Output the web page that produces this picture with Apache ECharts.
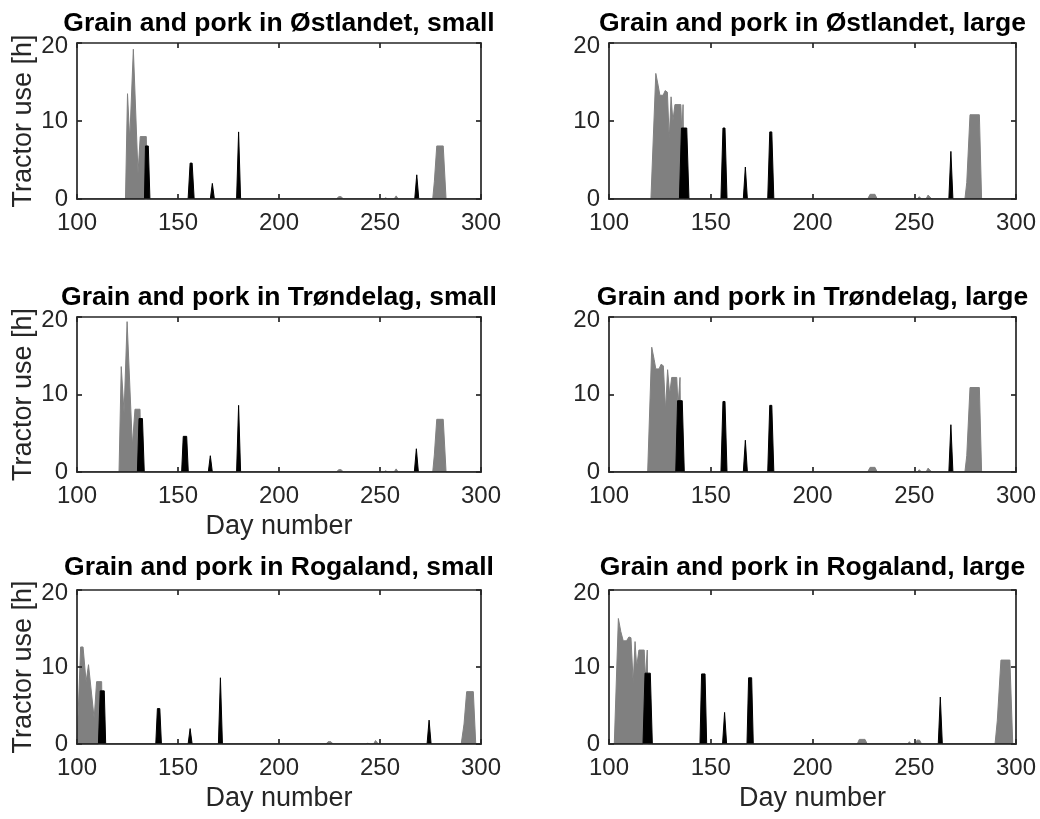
<!DOCTYPE html>
<html><head><meta charset="utf-8">
<script src="https://cdn.jsdelivr.net/npm/echarts@6/dist/echarts.min.js"></script>
<style>html,body{margin:0;padding:0;background:#fff}#c{width:1040px;height:819px}</style>
</head><body><div id="c"></div>
<script>
// ---- data: [day number, tractor use (h)] ----
const panelTitles = [
  'Grain and pork in Østlandet, small', 'Grain and pork in Østlandet, large',
  'Grain and pork in Trøndelag, small', 'Grain and pork in Trøndelag, large',
  'Grain and pork in Rogaland, small', 'Grain and pork in Rogaland, large'
];
const xName = 'Day number';
const yName = 'Tractor use [h]';
const xMin = 100, xMax = 300, xStep = 50;
const yMin = 0, yMax = 20, yStep = 10;

const grainOstSmall = [[100,0],[124.0,0],[125.0,13.5],[126.1,7.6],[127.9,19.2],[130.2,3.3],[131.3,8.0],[134.3,8.0],[134.8,0],
  [228.5,0],[229.5,0.3],[230.8,0.3],[231.8,0],[251.8,0],[252.8,0.15],[253.8,0],[257,0],[258,0.4],[259,0],
  [276.1,0],[276.9,2.2],[278.1,6.8],[281.3,6.8],[282.7,0],[300,0]];
const porkOstSmall = [[100,0],[133.4,0],[133.9,6.8],[135.3,6.8],[136.1,0],[155,0],[156,4.6],[157,4.6],[158,0],
  [166,0],[167,2.0],[168,0],[179,0],[180,8.6],[181,0],[267.2,0],[268.2,3.1],[269.2,0],[300,0]];

const grainOstLarge = [[100,0],[120.6,0],[123.0,16.1],[124.2,14.5],[125.0,13.3],[126.6,13.3],[127.6,13.9],[128.7,13.7],[129.6,7.7],[130.5,13.1],[131.4,10.0],[132.4,12.1],[135.3,12.1],[135.8,8.5],[136.4,12.1],[136.9,0],
  [227.1,0],[228.3,0.6],[230.7,0.6],[231.8,0],[251.5,0],[252.5,0.3],[253.5,0],[255.8,0],[256.8,0.5],[257.6,0.5],[258.6,0],
  [274.9,0],[275.8,2.1],[277.4,10.8],[282.0,10.8],[283.1,0],[300,0]];
const porkOstLarge = [[100,0],[134.6,0],[135.6,9.1],[138.2,9.1],[139.3,0],[155,0],[156,9.1],[157,9.1],[158,0],
  [166,0],[167,4.1],[168,0],[178,0],[179,8.6],[180,8.6],[181,0],[267,0],[268,6.1],[269,0],[300,0]];

const grainTrdSmall = [[100,0],[120.8,0],[121.9,13.6],[123.3,7.6],[124.8,19.4],[127.4,3.4],[128.7,8.1],[131.2,8.1],[131.7,0],
  [228.5,0],[229.5,0.3],[230.8,0.3],[231.8,0],[251.8,0],[252.8,0.15],[253.8,0],[257,0],[258,0.4],[259,0],
  [276.1,0],[276.9,2.2],[278.1,6.8],[281.3,6.8],[282.7,0],[300,0]];
const porkTrdSmall = [[100,0],[129.9,0],[130.7,6.9],[132.4,6.9],[133.3,0],[151.8,0],[152.6,4.6],[154.3,4.6],[155.1,0],
  [165,0],[166,2.1],[167,0],[179,0],[180,8.6],[181,0],[267,0],[268,3.0],[269,0],[300,0]];

const grainTrdLarge = [[100,0],[119.0,0],[121.0,16.1],[122.2,14.5],[123.0,13.3],[124.6,13.3],[125.6,13.9],[126.7,13.7],[127.8,8.0],[128.8,13.2],[129.8,10.0],[130.8,12.2],[133.3,12.2],[133.9,8.5],[134.9,12.2],[135.4,0],
  [227.1,0],[228.3,0.6],[230.7,0.6],[231.8,0],[251.5,0],[252.5,0.3],[253.5,0],[255.8,0],[256.8,0.5],[257.6,0.5],[258.6,0],
  [274.9,0],[275.8,2.1],[277.4,10.9],[282.0,10.9],[283.1,0],[300,0]];
const porkTrdLarge = [[100,0],[132.8,0],[133.7,9.2],[136.0,9.2],[137.0,0],[155,0],[156,9.1],[157,9.1],[158,0],
  [166,0],[167,4.1],[168,0],[178,0],[179,8.6],[180,8.6],[181,0],[267,0],[268,6.1],[269,0],[300,0]];

const grainRogSmall = [[100,0],[100.7,0],[101.8,12.6],[103.0,12.6],[104.5,8.1],[105.7,10.3],[108.5,3.3],[109.7,8.1],[112.2,8.1],[112.6,0],
  [223.3,0],[224.3,0.3],[225.7,0.3],[226.8,0],[243,0],[244,0.1],[245,0],[246.8,0],[247.8,0.45],[248.3,0.45],[249.2,0],
  [290.2,0],[291.6,2.6],[292.9,6.8],[296.2,6.8],[297.4,0],[300,0]];
const porkRogSmall = [[100,0],[110.6,0],[111.5,6.9],[113.5,6.9],[114.2,0],[139,0],[139.8,4.6],[141,4.6],[141.8,0],
  [155,0],[156,2.0],[157,0],[170,0],[171,8.6],[172,0],[273.3,0],[274.3,3.1],[275.3,0],[300,0]];

const grainRogLarge = [[100,0],[102.6,0],[104.6,16.3],[105.8,14.6],[107.0,13.4],[108.6,13.4],[109.8,13.9],[110.8,13.8],[111.9,7.9],[112.8,13.3],[113.6,10.0],[114.7,12.2],[117.3,12.2],[117.9,8.5],[118.8,12.2],[119.3,0],
  [222,0],[223,0.6],[225.8,0.6],[226.9,0],[246.8,0],[247.6,0.3],[248.4,0],[250.4,0],[251.4,0.5],[252.6,0.5],[253.6,0],
  [289.7,0],[290.8,3.0],[292.6,10.9],[297.0,10.9],[298.4,0],[300,0]];
const porkRogLarge = [[100,0],[116.7,0],[117.7,9.2],[120.3,9.2],[121.3,0],[144.7,0],[145.5,9.1],[147.2,9.1],[148,0],
  [155.8,0],[156.8,4.1],[157.8,0],[167.8,0],[168.6,8.6],[170.1,8.6],[170.9,0],[261.8,0],[262.8,6.1],[263.8,0],[300,0]];

const grainSeries = [grainOstSmall, grainOstLarge, grainTrdSmall, grainTrdLarge, grainRogSmall, grainRogLarge];
const porkSeries = [porkOstSmall, porkOstLarge, porkTrdSmall, porkTrdLarge, porkRogSmall, porkRogLarge];
const showXName = [false, false, true, false, true, true];
const showYName = [true, false, true, false, true, false];

// ---- layout / style ----
const FONT = '"Liberation Sans", Arial, Helvetica, sans-serif';
const AX = '#262626';
const grids = [
  {left: 77, top: 43, width: 404, height: 156},
  {left: 609, top: 43, width: 407, height: 156},
  {left: 77, top: 317, width: 404, height: 155},
  {left: 609, top: 317, width: 407, height: 155},
  {left: 77, top: 590, width: 404, height: 154},
  {left: 609, top: 590, width: 407, height: 154}
];
const titleTops = [11, 11, 285, 285, 555, 555];

const lineS = {color: AX, width: 1.7};
const xAxes = [], yAxes = [], series = [], titles = [];
grids.forEach((g, i) => {
  titles.push({
    text: panelTitles[i], left: g.left + g.width / 2, top: titleTops[i], textAlign: 'center', padding: 0,
    textStyle: {fontFamily: FONT, fontSize: 26.5, fontWeight: 'bold', color: '#000', lineHeight: 26}
  });
  xAxes.push({
    type: 'value', gridIndex: i, min: xMin, max: xMax, interval: xStep, position: 'bottom', z: 5,
    axisLine: {show: true, onZero: false, lineStyle: lineS},
    axisTick: {show: true, inside: true, length: 5, lineStyle: lineS},
    axisLabel: {show: true, margin: 12, color: AX, fontSize: 24, fontFamily: FONT, lineHeight: 24, showMinLabel: true, showMaxLabel: true},
    splitLine: {show: false},
    name: showXName[i] ? xName : '', nameLocation: 'middle', nameGap: 41,
    nameTextStyle: {fontFamily: FONT, fontSize: 27, color: AX, lineHeight: 27}
  });
  xAxes.push({
    type: 'value', gridIndex: i, min: xMin, max: xMax, interval: xStep, position: 'top', z: 5,
    axisLine: {show: true, onZero: false, lineStyle: lineS},
    axisTick: {show: true, inside: true, length: 5, lineStyle: lineS},
    axisLabel: {show: false}, splitLine: {show: false}
  });
  yAxes.push({
    type: 'value', gridIndex: i, min: yMin, max: yMax, interval: yStep, position: 'left', z: 5,
    axisLine: {show: true, onZero: false, lineStyle: lineS},
    axisTick: {show: true, inside: true, length: 5, lineStyle: lineS},
    axisLabel: {
      show: true, margin: 9, color: AX, fontSize: 24, fontFamily: FONT, lineHeight: 24,
      formatter: v => (v === yMax ? '{t|' + v + '}' : String(v)),
      rich: {t: {padding: [6, 0, 0, 0], fontSize: 24, fontFamily: FONT, color: AX, lineHeight: 24}}
    },
    splitLine: {show: false},
    name: showYName[i] ? yName : '', nameLocation: 'middle', nameGap: 40, nameRotate: 90,
    nameTextStyle: {fontFamily: FONT, fontSize: 27, color: AX, lineHeight: 27}
  });
  yAxes.push({
    type: 'value', gridIndex: i, min: yMin, max: yMax, interval: yStep, position: 'right', z: 5,
    axisLine: {show: true, onZero: false, lineStyle: lineS},
    axisTick: {show: true, inside: true, length: 5, lineStyle: lineS},
    axisLabel: {show: false}, splitLine: {show: false}
  });
  series.push({
    type: 'line', xAxisIndex: 2 * i, yAxisIndex: 2 * i, data: grainSeries[i],
    symbol: 'none', showSymbol: false, silent: true, z: 2,
    lineStyle: {width: 1, color: '#808080'}, areaStyle: {color: '#808080', opacity: 1}
  });
  series.push({
    type: 'line', xAxisIndex: 2 * i, yAxisIndex: 2 * i, data: porkSeries[i],
    symbol: 'none', showSymbol: false, silent: true, z: 3,
    lineStyle: {width: 1, color: '#000000'}, areaStyle: {color: '#000000', opacity: 1}
  });
});

const chart = echarts.init(document.getElementById('c'), null, {renderer: 'canvas'});
chart.setOption({
  animation: false, backgroundColor: '#fff',
  title: titles, grid: grids.map(g => Object.assign({containLabel: false}, g)),
  xAxis: xAxes, yAxis: yAxes, series: series
});
</script></body></html>
